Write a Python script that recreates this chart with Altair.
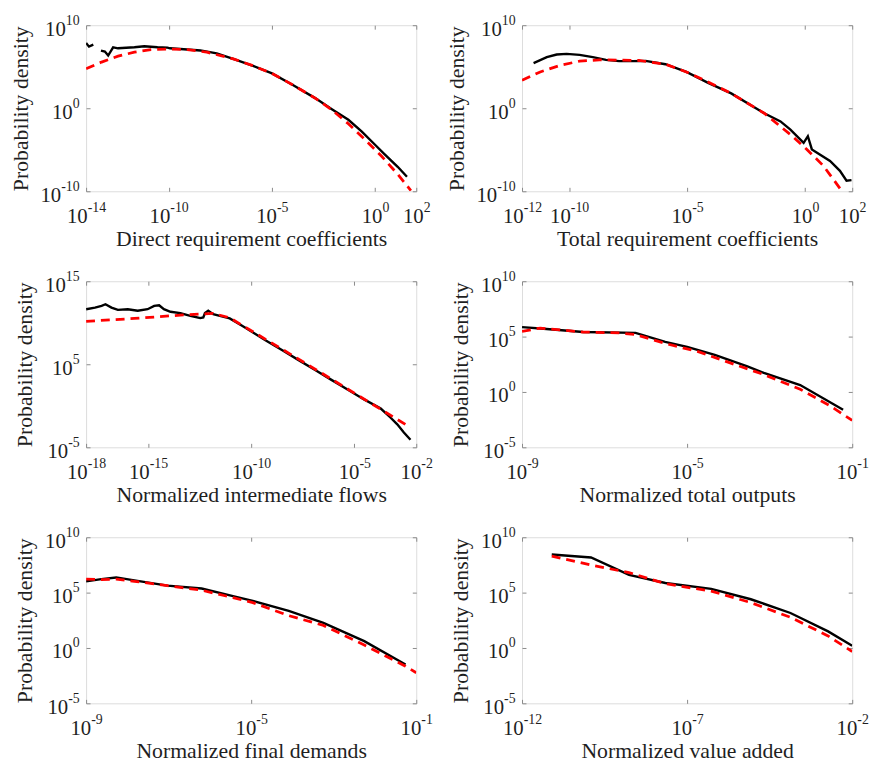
import altair as alt
import pandas as pd

FONT = "Liberation Serif"

# ---- values (log10 of x and of y) ----
# Panel 1: Direct requirement coefficients
direct_emp_lx = [-14.00, -13.86, -13.65,
                 -13.28, -13.09, -12.93, -12.69, -12.45, -11.66, -11.18, -10.54, -10.06, -9.93,
                 -9.10, -8.46, -7.67, -6.87, -5.91, -4.99, -4.00, -2.88, -2.09, -1.29, -0.65,
                 -0.01, 0.47, 1.10, 1.55]
direct_emp_ly = [7.86, 7.42, 7.66,
                 6.94, 6.83, 6.35, 7.34, 7.22, 7.34, 7.46, 7.34, 7.30, 7.22,
                 7.08, 6.96, 6.60, 5.95, 5.10, 4.20, 2.82, 1.19, -0.12, -1.39, -2.78,
                 -4.37, -5.55, -7.05, -8.25]
direct_emp_seg = [1, 1, 1] + [2] * 25
direct_fit_lx = [-14.00, -13.25, -12.45, -11.66, -10.86, -9.93, -9.10, -8.15, -6.87, -5.91,
                 -4.99, -4.00, -2.88, -2.09, -1.29, -0.49, 0.31, 1.10, 1.74]
direct_fit_ly = [4.76, 5.56, 6.27, 6.75, 7.06, 7.14, 7.06, 6.75, 5.95, 5.12,
                 4.18, 2.84, 1.19, -0.20, -1.87, -3.77, -5.75, -7.94, -9.92]

# Panel 2: Total requirement coefficients
total_emp_lx = [-11.51, -10.95, -10.53, -10.11, -9.56, -9.00, -8.44, -7.88, -7.32, -6.76,
                -5.92, -5.03, -4.11, -3.13, -1.73, -1.04, -0.62, -0.06, 0.12, 0.29,
                1.06, 1.48, 1.76, 1.97]
total_emp_ly = [5.44, 6.15, 6.47, 6.55, 6.43, 6.15, 5.83, 5.67, 5.67, 5.70,
                5.30, 4.37, 3.05, 1.79, -0.60, -1.59, -2.58, -4.17, -3.37, -4.96,
                -6.35, -7.54, -8.73, -8.65]
total_emp_seg = [1] * 24
total_fit_lx = [-12.00, -11.23, -10.39, -9.56, -8.72, -7.04, -5.92, -5.03, -4.11, -3.13,
                -1.73, -0.62, 0.08, 0.78, 1.55]
total_fit_ly = [3.37, 4.37, 5.16, 5.67, 5.83, 5.75, 5.30, 4.37, 3.17, 1.79,
                -0.60, -3.17, -4.96, -6.94, -9.92]

# Panel 3: Normalized intermediate flows
flows_emp_lx = [-18.00, -17.57, -17.25, -17.06, -16.77, -16.46, -15.98, -15.50, -15.02, -14.70,
                -14.46, -14.23, -13.91, -13.43, -12.95, -12.47, -12.32, -12.24, -12.08, -11.84,
                -11.52, -11.04, -10.40, -9.93, -9.29, -8.49, -7.70, -6.90, -6.11, -5.31,
                -4.51, -3.72, -3.24, -2.92, -2.60, -2.28]
flows_emp_ly = [11.63, 11.83, 12.03, 12.23, 11.83, 11.55, 11.63, 11.44, 11.63, 12.03,
                12.11, 11.63, 11.32, 11.16, 10.84, 10.56, 10.64, 11.16, 11.44, 11.04,
                10.84, 10.52, 9.57, 8.86, 7.87, 6.68, 5.50, 4.31, 3.12, 1.93,
                0.74, -0.33, -1.44, -2.23, -3.22, -4.09]
flows_emp_seg = [1] * 36
flows_fit_lx = [-18.00, -15.66, -13.43, -12.47, -11.84, -11.04, -7.22, -2.28]
flows_fit_ly = [10.17, 10.52, 10.92, 11.04, 11.12, 10.60, 4.90, -2.62]

# Panel 4: Normalized total outputs
outputs_emp_lx = [-9.00, -8.48, -7.52, -6.25, -5.53, -5.00, -4.33, -3.54, -3.14, -2.26, -1.22]
outputs_emp_ly = [5.86, 5.71, 5.41, 5.33, 4.53, 4.08, 3.34, 2.31, 1.72, 0.62, -1.60]
outputs_emp_seg = [1] * 11
outputs_fit_lx = [-9.00, -8.56, -7.52, -6.65, -6.25, -5.53, -4.73, -3.94, -3.14, -2.26, -1.54, -1.00]
outputs_fit_ly = [5.47, 5.77, 5.41, 5.33, 5.18, 4.38, 3.64, 2.60, 1.57, 0.24, -1.24, -2.57]

# Panel 5: Normalized final demands
demands_emp_lx = [-9.00, -8.63, -8.27, -7.83, -7.03, -6.20, -5.44, -4.96, -4.09, -3.25, -2.26, -1.26]
demands_emp_ly = [6.02, 6.22, 6.37, 6.11, 5.63, 5.37, 4.69, 4.25, 3.36, 2.27, 0.62, -1.50]
demands_emp_seg = [1] * 12
demands_fit_lx = [-9.00, -8.63, -8.27, -7.83, -7.03, -6.20, -5.44, -4.96, -4.09, -3.25, -2.26, -1.26, -1.00]
demands_fit_ly = [6.22, 6.17, 6.22, 6.02, 5.63, 5.22, 4.54, 4.10, 2.92, 2.04, 0.27, -1.65, -2.24]

# Panel 6: Normalized value added
value_emp_lx = [-11.10, -9.91, -8.76, -7.66, -6.27, -5.07, -3.87, -2.73, -2.00]
value_emp_ly = [8.44, 8.17, 6.61, 5.87, 5.34, 4.40, 3.16, 1.50, 0.21]
value_emp_seg = [1] * 9
value_fit_lx = [-11.10, -9.91, -8.76, -7.66, -6.27, -5.07, -3.87, -2.73, -2.00]
value_fit_ly = [8.29, 7.49, 6.81, 5.81, 5.13, 4.10, 2.77, 1.09, -0.32]

# axis ranges and tick values (log10)
titles = ["Direct requirement coefficients", "Total requirement coefficients",
          "Normalized intermediate flows", "Normalized total outputs",
          "Normalized final demands", "Normalized value added"]
x_ranges = [(-14, 2), (-12, 2), (-18, -2), (-9, -1), (-9, -1), (-12, -2)]
y_ranges = [(-10, 10), (-10, 10), (-5, 15), (-5, 10), (-5, 10), (-5, 10)]
x_tick_exps = [[-14, -10, -5, 0, 2], [-12, -10, -5, 0, 2], [-18, -15, -10, -5, -2],
               [-9, -5, -1], [-9, -5, -1], [-12, -7, -2]]
y_tick_exps = [[-10, 0, 10], [-10, 0, 10], [-5, 5, 15],
               [-5, 0, 5, 10], [-5, 0, 5, 10], [-5, 0, 5, 10]]

# ---- styling ----
BOX = "#8a8a8a"
TXT = "#1f1f1f"
W, H = 334, 168
BASE_FS = 21
EXP_FS = 14
TITLE_FS = 22

E = "round(log(datum.value)/LN10)"
A = "abs(" + E + ")"
BASE_EXPR = "'10'"
EXP_EXPR = "'' + " + E

# approximate exponent widths (Times metrics: digit .5em, hyphen .333em)
DIG = 0.5 * EXP_FS
HYP = 0.333 * EXP_FS
EW = {"n2": HYP + 2 * DIG, "n1": HYP + DIG, "p2": 2 * DIG, "p1": DIG}


def by_exponent(fn):
    return {"condition": [
        {"test": E + " < 0 && " + A + " >= 10", "value": round(fn(EW["n2"]), 2)},
        {"test": E + " < 0", "value": round(fn(EW["n1"]), 2)},
        {"test": A + " >= 10", "value": round(fn(EW["p2"]), 2)},
    ], "value": round(fn(EW["p1"]), 2)}


X_SHIFT = by_exponent(lambda ew: (BASE_FS - ew) / 2)
Y_BASE_PAD = by_exponent(lambda ew: 7 + ew)

TICKS = dict(domain=False, grid=False, offset=-4, tickSize=4, tickColor=BOX, tickWidth=1)
NO_OVERLAP = dict(labelOverlap=False, labelFlush=False, labelBound=False)


def panel(emp_lx, emp_ly, emp_seg, fit_lx, fit_ly, xr, yr, xt, yt, xtitle):
    emp = pd.DataFrame({"x": [10 ** v for v in emp_lx], "y": [10 ** v for v in emp_ly],
                        "seg": emp_seg})
    fit = pd.DataFrame({"x": [10 ** v for v in fit_lx], "y": [10 ** v for v in fit_ly]})
    xs = alt.Scale(type="log", domain=[10.0 ** xr[0], 10.0 ** xr[1]], nice=False)
    ys = alt.Scale(type="log", domain=[10.0 ** yr[0], 10.0 ** yr[1]], nice=False)
    xv = [10.0 ** e for e in xt]
    yv = [10.0 ** e for e in yt]

    x_base = alt.Axis(orient="bottom", values=xv, labelExpr=BASE_EXPR, title=xtitle,
                      labelFont=FONT, labelFontSize=BASE_FS, labelColor=TXT,
                      labelAlign="right", labelOffset=X_SHIFT, labelPadding=15,
                      titleFont=FONT, titleFontSize=TITLE_FS, titleFontWeight="normal",
                      titleColor=TXT, titlePadding=2, **NO_OVERLAP, **TICKS)
    y_base = alt.Axis(orient="left", values=yv, labelExpr=BASE_EXPR,
                      title="Probability density", labelFont=FONT, labelFontSize=BASE_FS,
                      labelColor=TXT, labelAlign="right", labelPadding=Y_BASE_PAD,
                      labelOffset=4,
                      titleFont=FONT, titleFontSize=TITLE_FS, titleFontWeight="normal",
                      titleColor=TXT, titlePadding=8, **NO_OVERLAP, **TICKS)
    x_top = alt.Axis(orient="top", values=xv, labels=False, title=None, **TICKS)
    y_right = alt.Axis(orient="right", values=yv, labels=False, title=None, **TICKS)
    x_exp = alt.Axis(orient="bottom", values=xv, labelExpr=EXP_EXPR, title=None,
                     labelFont=FONT, labelFontSize=EXP_FS, labelColor=TXT,
                     labelAlign="left", labelOffset=X_SHIFT, labelPadding=9,
                     tickOpacity=0, **NO_OVERLAP, **TICKS)
    y_exp = alt.Axis(orient="left", values=yv, labelExpr=EXP_EXPR, title=None,
                     labelFont=FONT, labelFontSize=EXP_FS, labelColor=TXT,
                     labelAlign="right", labelPadding=7, labelOffset=-5,
                     tickOpacity=0, **NO_OVERLAP, **TICKS)

    black = alt.Chart(emp).mark_line(color="black", strokeWidth=2.4, clip=True).encode(
        x=alt.X("x:Q", scale=xs, axis=x_base),
        y=alt.Y("y:Q", scale=ys, axis=y_base),
        detail="seg:N",
    )
    red = alt.Chart(fit).mark_line(color="#ff0000", strokeWidth=2.8, strokeDash=[9, 6],
                                   clip=True).encode(
        x=alt.X("x:Q", scale=xs, axis=x_top),
        y=alt.Y("y:Q", scale=ys, axis=y_right),
    )
    exps = alt.Chart(fit).mark_line(opacity=0, clip=True).encode(
        x=alt.X("x:Q", scale=xs, axis=x_exp),
        y=alt.Y("y:Q", scale=ys, axis=y_exp),
    )
    return alt.layer(black, red, exps).resolve_axis(x="independent", y="independent").properties(
        width=W, height=H)


series = [
    (direct_emp_lx, direct_emp_ly, direct_emp_seg, direct_fit_lx, direct_fit_ly),
    (total_emp_lx, total_emp_ly, total_emp_seg, total_fit_lx, total_fit_ly),
    (flows_emp_lx, flows_emp_ly, flows_emp_seg, flows_fit_lx, flows_fit_ly),
    (outputs_emp_lx, outputs_emp_ly, outputs_emp_seg, outputs_fit_lx, outputs_fit_ly),
    (demands_emp_lx, demands_emp_ly, demands_emp_seg, demands_fit_lx, demands_fit_ly),
    (value_emp_lx, value_emp_ly, value_emp_seg, value_fit_lx, value_fit_ly),
]

panels = [panel(*s, x_ranges[i], y_ranges[i], x_tick_exps[i], y_tick_exps[i], titles[i])
          for i, s in enumerate(series)]

chart = alt.concat(*panels, columns=2, spacing={"row": 91, "column": 107},
                   bounds="flush").properties(
    padding={"left": 0, "top": 0, "right": 0, "bottom": 0}
).configure_view(stroke=BOX, strokeWidth=1).configure(background="white")

chart.save("out.html", embed_options={"renderer": "svg", "actions": False})
